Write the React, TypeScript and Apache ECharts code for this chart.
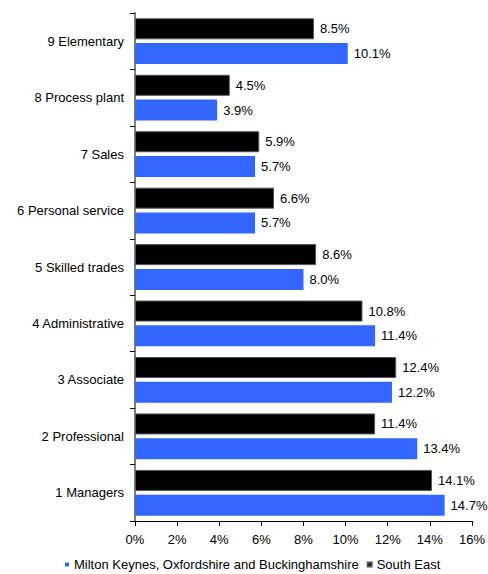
import React, { useEffect, useRef } from "react";
import * as echarts from "echarts";

const categories = [
  "1 Managers",
  "2 Professional",
  "3 Associate",
  "4 Administrative",
  "5 Skilled trades",
  "6 Personal service",
  "7 Sales",
  "8 Process plant",
  "9 Elementary",
];
const mkobValues = [14.7, 13.4, 12.2, 11.4, 8.0, 5.7, 5.7, 3.9, 10.1];
const southEastValues = [14.1, 11.4, 12.4, 10.8, 8.6, 6.6, 5.9, 4.5, 8.5];
const seriesNames = ["Milton Keynes, Oxfordshire and Buckinghamshire", "South East"];

const FONT = "Liberation Sans, Arial, sans-serif";

export default function App() {
  const ref = useRef<HTMLDivElement>(null);
  useEffect(() => {
    if (!ref.current) return;
    const chart = echarts.init(ref.current, undefined, { renderer: "svg" });
    const label = {
      show: true,
      position: "right" as const,
      distance: 6,
      color: "#000",
      fontSize: 13,
      fontFamily: FONT,
      formatter: (p: any) => p.value.toFixed(1) + "%",
    };
    chart.setOption({
      animation: false,
      textStyle: { fontFamily: FONT },
      grid: { left: 135, right: 15, top: 13, bottom: 53, containLabel: false },
      legend: {
        top: 553,
        left: 60,
        itemWidth: 4,
        itemHeight: 4,
        itemGap: 8,
        icon: "rect",
        textStyle: { fontSize: 13, color: "#000", fontFamily: FONT },
        data: seriesNames,
      },
      xAxis: {
        type: "value",
        min: 0,
        max: 16,
        interval: 2,
        splitLine: { show: false },
        axisLine: { show: true, lineStyle: { color: "#000", width: 1 } },
        axisTick: { show: true, length: 5, lineStyle: { color: "#000" } },
        axisLabel: {
          formatter: (v: number) => v + "%",
          color: "#000",
          fontSize: 13,
          fontFamily: FONT,
          margin: 12,
        },
      },
      yAxis: {
        type: "category",
        data: categories,
        axisLine: { show: true, lineStyle: { color: "#808080", width: 2 } },
        axisTick: { show: true, length: 5, lineStyle: { color: "#000" } },
        axisLabel: { color: "#000", fontSize: 13, fontFamily: FONT, margin: 11 },
      },
      series: [
        {
          name: seriesNames[1],
          type: "bar",
          data: southEastValues,
          barWidth: 21,
          barGap: "18%",
          itemStyle: { color: "#000000", borderColor: "#555", borderWidth: 1 },
          label,
        },
        {
          name: seriesNames[0],
          type: "bar",
          data: mkobValues,
          barWidth: 21,
          barGap: "18%",
          itemStyle: { color: "#3366FF" },
          label,
        },
      ],
    });
    return () => chart.dispose();
  }, []);
  return (
    <div
      ref={ref}
      style={{ position: "absolute", left: 0, top: 0, width: 488, height: 574 }}
    />
  );
}
